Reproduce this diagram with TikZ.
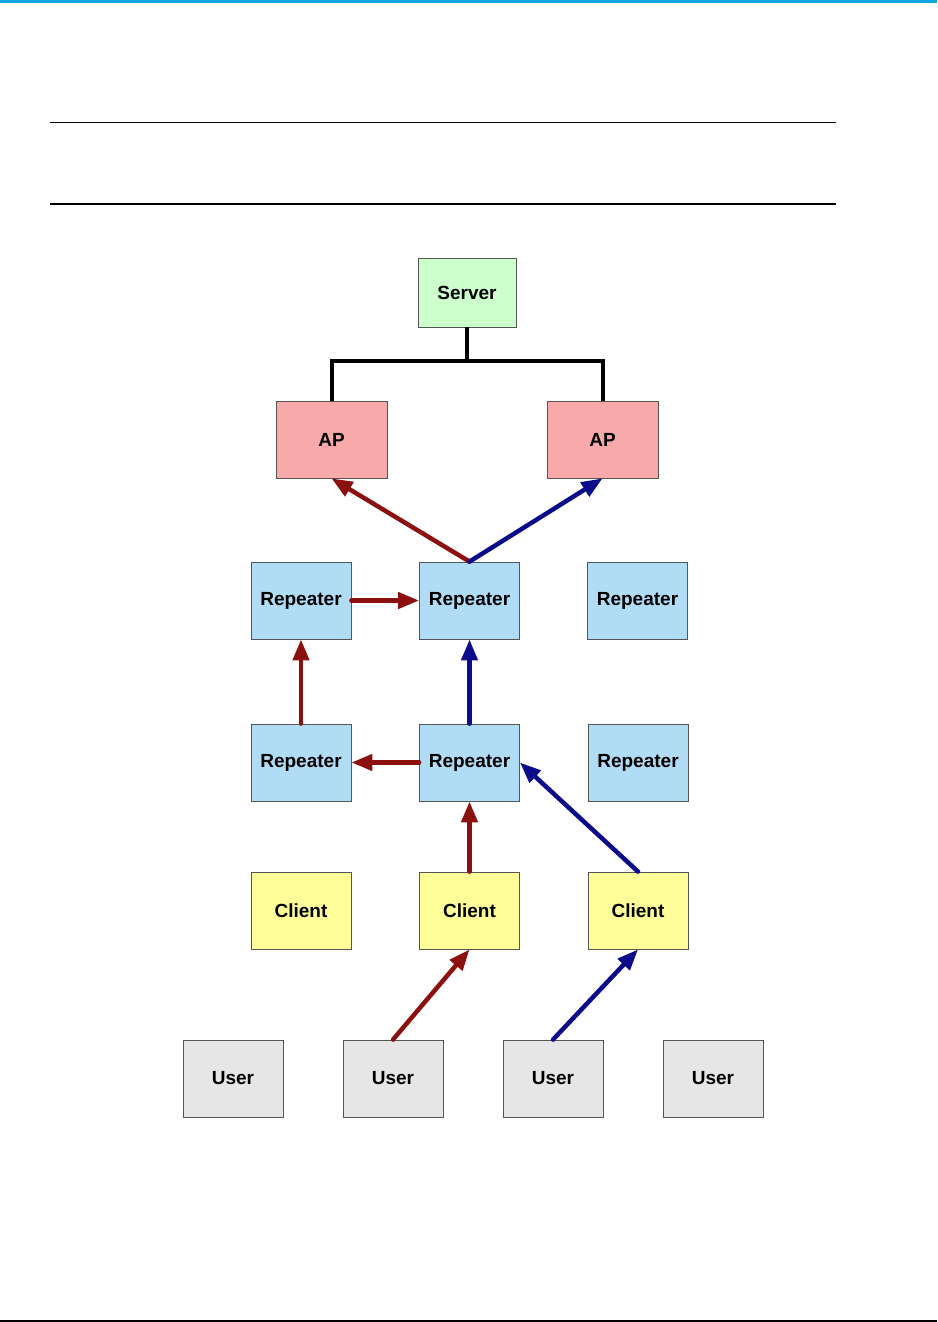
\documentclass[tikz,border=0pt]{standalone}
\usepackage{fontspec}
\setmainfont{Liberation Sans}
\usetikzlibrary{arrows.meta, positioning}
\definecolor{hdrblue}{HTML}{0EA5E0}
\definecolor{srvgreen}{HTML}{CCFFCC}
\definecolor{appink}{HTML}{F8A9A9}
\definecolor{repblue}{HTML}{B0DDF5}
\definecolor{cliyellow}{HTML}{FFFF99}
\definecolor{usrgray}{HTML}{E6E6E6}
\definecolor{linkred}{HTML}{8B1111}
\definecolor{linkblue}{HTML}{0C0C8A}
\definecolor{edgegray}{HTML}{555555}

\begin{document}
\begin{tikzpicture}[x=1pt, y=-1pt,
    unit/.style={rectangle, draw=edgegray, line width=0.8pt, minimum width=100pt, minimum height=77pt, font=\fontsize{19}{21}\selectfont\bfseries},
    srv/.style={unit, fill=srvgreen, minimum width=98pt, minimum height=69pt},
    ap/.style={unit, fill=appink, minimum width=111pt},
    rep/.style={unit, fill=repblue},
    cli/.style={unit, fill=cliyellow},
    usr/.style={unit, fill=usrgray},
    wire/.style={line width=4pt, draw=black},
    link/.style={line width=4.5pt, line cap=round, -{Triangle[length=21pt, width=16pt]}},
    redlink/.style={link, draw=linkred, fill=linkred},
    bluelink/.style={link, draw=linkblue, fill=linkblue},
]
\useasboundingbox (0,0) rectangle (937,1322);

% Page rules
\draw[hdrblue, line width=3pt] (0,1.5) -- (937,1.5);
\draw[line width=1pt] (50,122.5) -- (836,122.5);
\draw[line width=2pt] (50,203.5) -- (836,203.5);
\draw[line width=1.5pt] (0,1321) -- (937,1321);

% Server and access points
\node[srv] (srv) at (467,292.5) {Server};
\node[ap] (apL) at (331.5,439.5) {AP};
\node[ap] (apR) at (602.5,439.5) {AP};

% Repeaters
\node[rep] (rep1L) at (301,600.5) {Repeater};
\node[rep] (rep1M) at (469.5,600.5) {Repeater};
\node[rep] (rep1R) at (637.5,600.5) {Repeater};
\node[rep] (rep2L) at (301,762.5) {Repeater};
\node[rep] (rep2M) at (469.5,762.5) {Repeater};
\node[rep] (rep2R) at (638,762.5) {Repeater};

% Clients
\node[cli] (cliL) at (301,910.5) {Client};
\node[cli] (cliM) at (469.5,910.5) {Client};
\node[cli] (cliR) at (638,910.5) {Client};

% Users
\node[usr] (usr1) at (233,1078.5) {User};
\node[usr] (usr2) at (393,1078.5) {User};
\node[usr] (usr3) at (553,1078.5) {User};
\node[usr] (usr4) at (713,1078.5) {User};

% Wired backbone
\coordinate (fork) at (467,361);
\draw[wire] (srv.south) -- (fork);
\draw[wire] (apL.north) |- (fork) -| (apR.north);

% Red route
\draw[redlink] (usr2.north) -- (cliM.south);
\draw[redlink] (cliM.north) -- (rep2M.south);
\draw[redlink] (rep2M.west) -- (rep2L.east);
\draw[redlink] (rep2L.north) -- (rep1L.south);
\draw[redlink] (rep1L.east) -- (rep1M.west);
\draw[redlink] (rep1M.north) -- (apL.south);

% Blue route
\draw[bluelink] (usr3.north) -- (cliR.south);
\draw[bluelink] (cliR.north) -- (rep2M.east);
\draw[bluelink] (rep2M.north) -- (rep1M.south);
\draw[bluelink] (rep1M.north) -- (apR.south);

\end{tikzpicture}
\end{document}
